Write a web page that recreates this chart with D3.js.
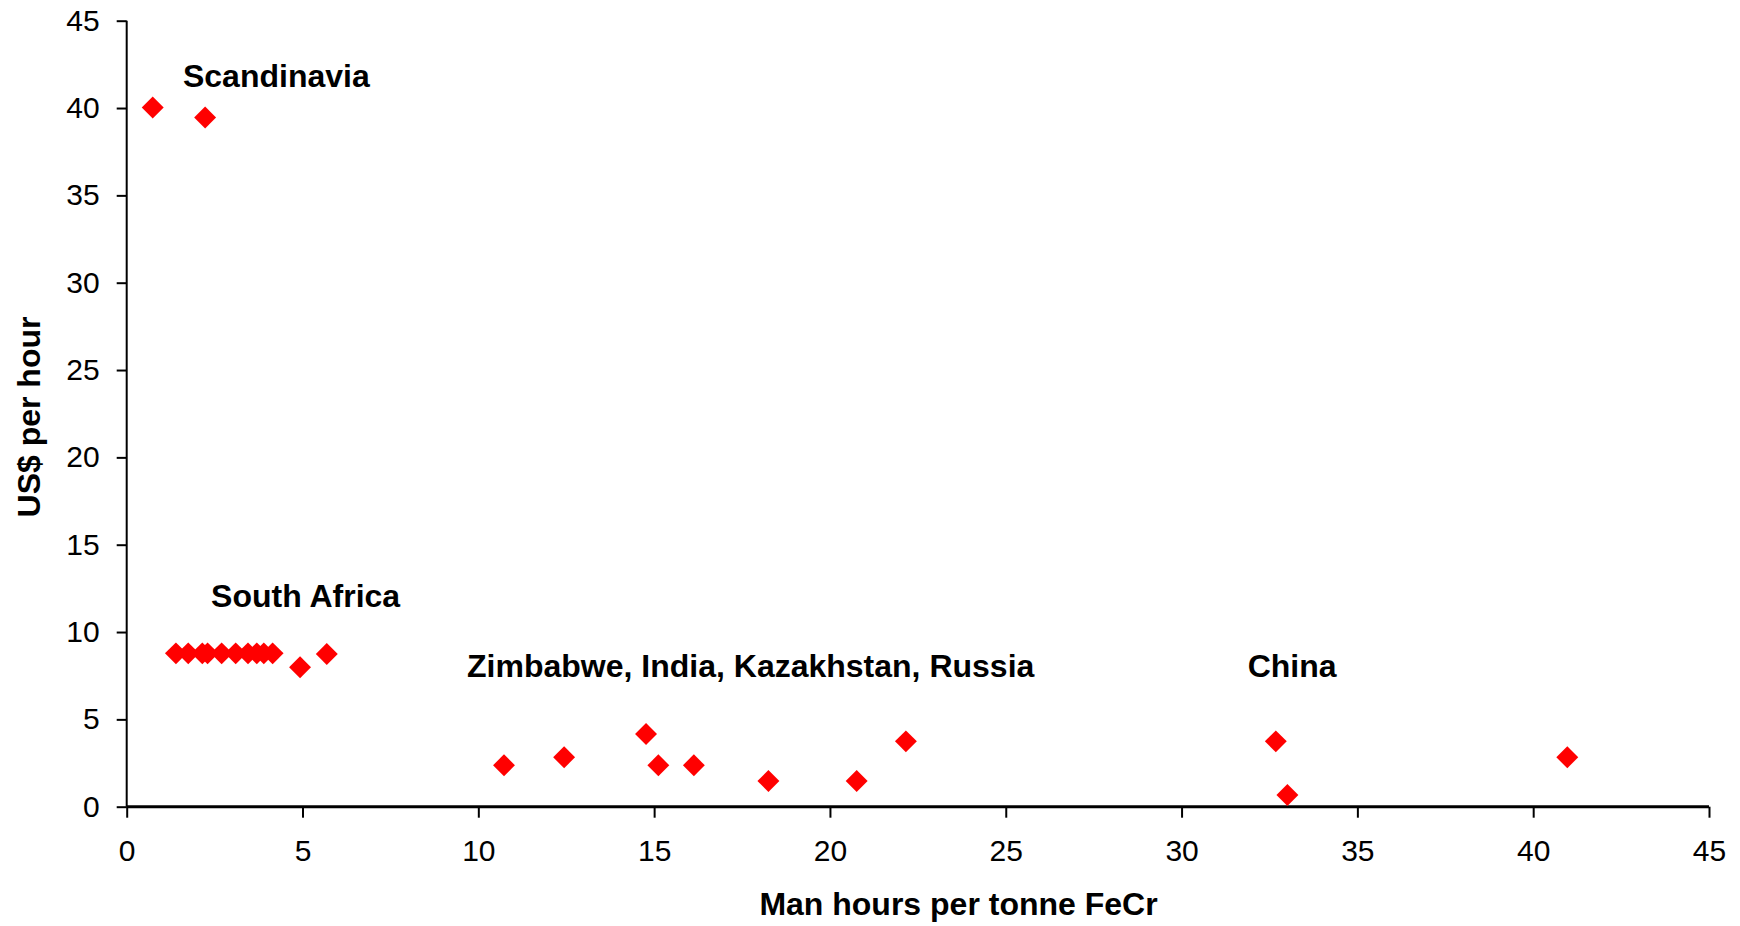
<!DOCTYPE html>
<html>
<head>
<meta charset="utf-8">
<script src="https://cdn.jsdelivr.net/npm/d3@7"></script>
<style>
html,body{margin:0;padding:0;background:#fff;}
svg{display:block;}
text{font-family:"Liberation Sans",Arial,Helvetica,sans-serif;}
</style>
</head>
<body>
<svg id="chart" width="1740" height="926"></svg>
<script>
// Man hours per tonne FeCr (x) vs US$ per hour (y)
const xValues = [0.74, 2.23,
  1.4, 1.75, 2.15, 2.3, 2.7, 3.1, 3.45, 3.7, 3.9, 4.15, 4.93, 5.69,
  10.73, 12.44, 14.77, 15.12, 16.13, 18.25, 20.76, 22.16,
  32.68, 33.01, 40.97];
const yValues = [40.03, 39.46,
  8.78, 8.78, 8.78, 8.78, 8.78, 8.78, 8.78, 8.78, 8.78, 8.78, 7.98, 8.74,
  2.37, 2.83, 4.16, 2.37, 2.37, 1.47, 1.47, 3.74,
  3.74, 0.67, 2.83];
const xTicks = [0, 5, 10, 15, 20, 25, 30, 35, 40, 45];
const yTicks = [0, 5, 10, 15, 20, 25, 30, 35, 40, 45];
const labelTexts = ["Scandinavia", "South Africa", "Zimbabwe, India, Kazakhstan, Russia", "China"];
const labelX = [1.6, 2.4, 9.68, 31.88];
const labelY = [41.2, 11.45, 7.41, 7.44];
const xTitle = "Man hours per tonne FeCr";
const yTitle = "US$ per hour";

const svg = d3.select("#chart");
const mLeft = 126.7, mRight = 1709, mTop = 20.7, mBottom = 806.7;

const x = d3.scaleLinear().domain([0, 45]).range([mLeft, mRight]);
const y = d3.scaleLinear().domain([0, 45]).range([mBottom, mTop]);

// Y axis
const yAxis = svg.append("g")
  .attr("transform", `translate(${mLeft},0)`)
  .call(d3.axisLeft(y).tickValues(yTicks).tickSize(10).tickPadding(17).tickFormat(d3.format("d")));
yAxis.select(".domain").attr("stroke", "#000").attr("stroke-width", 2).attr("d", `M0,${mTop}V${mBottom}`);
yAxis.selectAll(".tick line").attr("stroke", "#000").attr("stroke-width", 2);
yAxis.selectAll(".tick text").attr("font-size", 30).attr("fill", "#000")
  .style("font-family", '"Liberation Sans",Arial,sans-serif');

// X axis
const xAxis = svg.append("g")
  .attr("transform", `translate(0,${mBottom})`)
  .call(d3.axisBottom(x).tickValues(xTicks).tickSize(11).tickPadding(22).tickFormat(d3.format("d")));
xAxis.select(".domain").attr("stroke", "#000").attr("stroke-width", 3).attr("d", `M${mLeft},0H${mRight}`);
xAxis.selectAll(".tick line").attr("stroke", "#000").attr("stroke-width", 2);
xAxis.selectAll(".tick text").attr("font-size", 30).attr("fill", "#000")
  .style("font-family", '"Liberation Sans",Arial,sans-serif');

// Points
const diamond = d3.symbol().type(d3.symbolSquare).size(240);
svg.append("g").selectAll("path")
  .data(xValues.map((v, i) => [v, yValues[i]]))
  .join("path")
  .attr("d", diamond)
  .attr("transform", d => `translate(${x(d[0])},${y(d[1])}) rotate(45)`)
  .attr("fill", "#ff0000");

// Annotations
svg.append("g").selectAll("text")
  .data(labelTexts.map((t, i) => ({t, x: labelX[i], y: labelY[i]})))
  .join("text")
  .attr("x", d => x(d.x))
  .attr("y", d => y(d.y))
  .attr("font-size", 32)
  .attr("font-weight", "bold")
  .attr("fill", "#000")
  .text(d => d.t);

// Axis titles
svg.append("text")
  .attr("x", 958.5)
  .attr("y", 915)
  .attr("text-anchor", "middle")
  .attr("font-size", 32)
  .attr("font-weight", "bold")
  .text(xTitle);

svg.append("text")
  .attr("transform", "translate(40,417) rotate(-90)")
  .attr("text-anchor", "middle")
  .attr("font-size", 32)
  .attr("font-weight", "bold")
  .text(yTitle);
</script>
</body>
</html>
